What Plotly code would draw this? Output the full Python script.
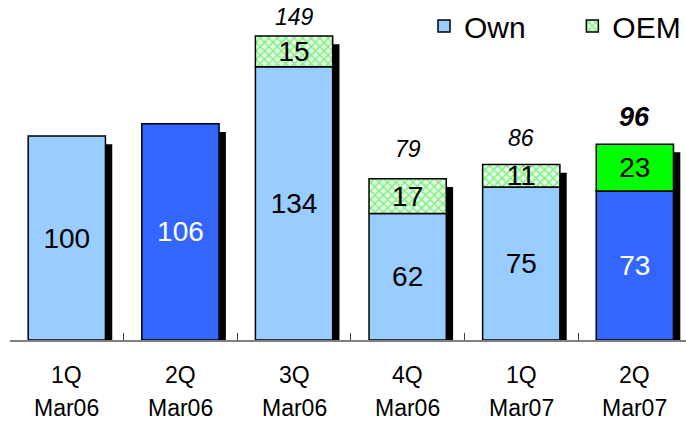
import plotly.graph_objects as go

categories = ["1Q Mar06", "2Q Mar06", "3Q Mar06", "4Q Mar06", "1Q Mar07", "2Q Mar07"]
quarter_labels = ["1Q", "2Q", "3Q", "4Q", "1Q", "2Q"]
period_labels = ["Mar06", "Mar06", "Mar06", "Mar06", "Mar07", "Mar07"]
own = [100, 106, 134, 62, 75, 73]
oem = [0, 0, 15, 17, 11, 23]
totals = [o + e for o, e in zip(own, oem)]
total_labels = ["", "", "149", "79", "86", "96"]

LIGHT = "#99CCFF"
DARK = "#3366FF"
own_colors = [LIGHT, DARK, LIGHT, LIGHT, LIGHT, DARK]
own_text_colors = ["black", "white", "black", "black", "black", "white"]
total_label_gap = [0, 0, 4, 15, 12, 10]  # pixel gap between stack top and its total label

BAR_W = 0.68
SHADOW_DX = 0.06
SHADOW_DY = 4.0
FONT = "Liberation Sans, Arial, sans-serif"

fig = go.Figure()

# drop shadows behind each stack
fig.add_trace(go.Bar(
    x=categories, y=[t - SHADOW_DY for t in totals], base=0,
    width=BAR_W, offset=-BAR_W / 2 + SHADOW_DX,
    marker=dict(color="black", line=dict(width=0)),
    showlegend=False, hoverinfo="skip",
))

fig.add_trace(go.Bar(
    x=categories, y=own, name="Own\u00a0\u00a0\u00a0\u00a0\u00a0",
    width=BAR_W, offset=-BAR_W / 2,
    marker=dict(color=own_colors, line=dict(color="black", width=1.5)),
    text=[str(v) for v in own], textposition="inside", insidetextanchor="middle",
    textfont=dict(size=28, family=FONT, color=own_text_colors),
    textangle=0, constraintext="none",
))

hatched = [i for i, v in enumerate(oem) if v > 0 and i != 5]

fig.add_trace(go.Bar(
    x=[categories[i] for i in hatched], y=[oem[i] for i in hatched],
    base=[own[i] for i in hatched], name="OEM",
    width=BAR_W, offset=-BAR_W / 2,
    marker=dict(color="white", line=dict(color="black", width=1.5),
                pattern=dict(shape="x", fgcolor="#22DD22", bgcolor="#E8FFE8", size=6, solidity=0.45)),
    text=[str(oem[i]) for i in hatched], textposition="inside", insidetextanchor="middle",
    textfont=dict(size=28, family=FONT, color="black"), textangle=0, constraintext="none",
))

fig.add_trace(go.Bar(
    x=[categories[5]], y=[oem[5]], base=[own[5]],
    width=BAR_W, offset=-BAR_W / 2,
    marker=dict(color="#00FF00", line=dict(color="black", width=1.5)),
    text=[str(oem[5])], textposition="inside", insidetextanchor="middle",
    textfont=dict(size=28, family=FONT, color="black"), textangle=0, constraintext="none",
    showlegend=False,
))

# totals above the stacks
for i, lab in enumerate(total_labels):
    if not lab:
        continue
    last = i == 5
    fig.add_annotation(
        x=categories[i], y=totals[i], yshift=total_label_gap[i],
        text=f"<b><i>{lab}</i></b>" if last else f"<i>{lab}</i>",
        showarrow=False, yanchor="bottom",
        font=dict(size=27 if last else 23, family=FONT, color="black"),
    )

# two-line category labels under the axis
for i in range(len(categories)):
    fig.add_annotation(x=categories[i], y=0, yref="paper", yshift=-35, text=quarter_labels[i],
                       showarrow=False, yanchor="middle",
                       font=dict(size=23, family=FONT, color="black"))
    fig.add_annotation(x=categories[i], y=0, yref="paper", yshift=-68, text=period_labels[i],
                       showarrow=False, yanchor="middle",
                       font=dict(size=23, family=FONT, color="black"))

fig.update_layout(
    width=686, height=421,
    margin=dict(l=10, r=0, t=0, b=81, autoexpand=False),
    barmode="overlay",
    plot_bgcolor="white", paper_bgcolor="white",
    showlegend=True,
    legend=dict(orientation="h", x=1.0, xanchor="right", y=1.0, yanchor="top",
                font=dict(size=30, family=FONT, color="black"),
                traceorder="normal", itemwidth=30, bgcolor="rgba(0,0,0,0)"),
    xaxis=dict(
        type="category", range=[-0.5, 5.45],
        showline=True, linecolor="#808080", linewidth=1.5,
        ticks="inside", ticklen=7, tickcolor="#404040", tickwidth=1,
        tickson="boundaries", showticklabels=False,
        showgrid=False, automargin=False,
    ),
    yaxis=dict(range=[0, 166.7], visible=False, showgrid=False, zeroline=False),
    font=dict(family=FONT),
)

fig.write_html("out.html")
